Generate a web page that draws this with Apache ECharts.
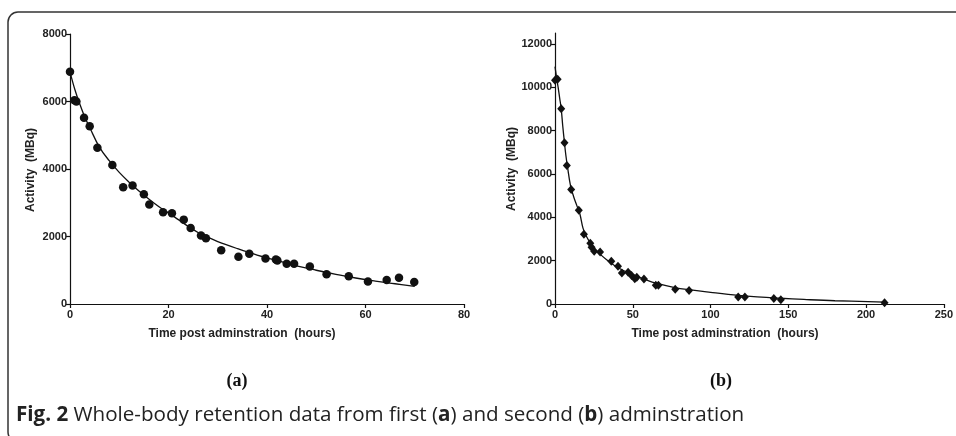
<!DOCTYPE html>
<html>
<head>
<meta charset="utf-8">
<script src="https://cdn.jsdelivr.net/npm/echarts@6/dist/echarts.min.js"></script>
<style>
  html, body { margin: 0; padding: 0; background: #fff; }
  #chart { width: 956px; height: 436px; }
</style>
</head>
<body>
<div id="chart"></div>
<script>
// (a) first administration: measured points
const timeA = [0, 0.9, 1.3, 2.85, 4.0, 5.56, 8.6, 10.8, 12.7, 15.0, 16.1, 18.9, 20.7, 23.1, 24.5, 26.6, 27.6, 30.7, 34.2, 36.4, 39.7, 41.8, 42.1, 44.0, 45.5, 48.7, 52.1, 56.6, 60.5, 64.3, 66.8, 69.9];
const activityA = [6880, 6040, 6000, 5520, 5270, 4630, 4120, 3460, 3510, 3250, 2950, 2720, 2690, 2500, 2250, 2030, 1950, 1590, 1400, 1490, 1350, 1320, 1290, 1190, 1190, 1110, 880, 820, 670, 710, 780, 650];
// (a) fitted curve
const fitTimeA = [0, 1, 2, 3, 4, 6, 8, 10, 12, 14, 16, 18, 20, 22, 24, 26, 28, 30, 34, 38, 42, 46, 50, 54, 58, 62, 66, 70];
const fitActivityA = [6880, 6350, 5920, 5540, 5230, 4640, 4240, 3900, 3610, 3350, 3110, 2890, 2700, 2500, 2300, 2120, 1980, 1850, 1640, 1450, 1290, 1130, 1000, 880, 770, 680, 600, 520];

// (b) second administration: measured points
const timeB = [0, 1.7, 4.0, 6.1, 7.6, 10.4, 15.3, 18.6, 22.7, 23.5, 25.2, 29.0, 36.2, 40.5, 43.0, 47.0, 49.2, 51.3, 52.6, 57.2, 64.8, 66.5, 77.3, 86.2, 117.8, 122.1, 140.7, 145.2, 211.9];
const activityB = [10320, 10370, 9010, 7440, 6390, 5280, 4330, 3220, 2800, 2620, 2430, 2400, 1970, 1740, 1430, 1460, 1320, 1170, 1230, 1150, 860, 860, 680, 620, 320, 320, 250, 200, 60];
// (b) fitted curve
const fitTimeB = [0, 1, 2, 3, 4, 5, 6, 7, 8, 10, 12, 14, 16, 18, 20, 23, 26, 29, 33, 38, 43, 50, 57, 65, 77, 86, 100, 118, 130, 145, 160, 180, 212];
const fitActivityB = [10950, 10450, 10000, 9500, 9000, 8200, 7500, 6850, 6350, 5450, 4950, 4550, 4150, 3500, 3150, 2780, 2500, 2300, 2050, 1790, 1580, 1350, 1160, 960, 760, 660, 540, 400, 330, 265, 210, 150, 90];

const yTicksA = [0, 2000, 4000, 6000, 8000];
const yTicksB = [0, 2000, 4000, 6000, 8000, 10000, 12000];

const zip = (xs, ys) => xs.map((x, i) => [x, ys[i]]);

const chart = echarts.init(document.getElementById('chart'));

const axisLineStyle = { color: '#111', width: 1.2 };
const tickLabel = {
  color: '#222', fontFamily: 'Liberation Sans, Arial', fontWeight: 'bold', fontSize: 11,
  formatter: v => String(v)
};

const makeX = (gridIndex, max, interval) => ({
  type: 'value',
  gridIndex: gridIndex,
  min: 0,
  max: max,
  interval: interval,
  axisLine: { onZero: false, lineStyle: axisLineStyle },
  axisTick: { length: 4, lineStyle: axisLineStyle },
  axisLabel: Object.assign({ margin: 5 }, tickLabel),
  splitLine: { show: false }
});

const makeY = (gridIndex, max, ticks) => ({
  type: 'value',
  gridIndex: gridIndex,
  min: 0,
  max: max,
  interval: 2000,
  axisLine: { show: true, lineStyle: axisLineStyle },
  axisTick: { show: true, length: 4, lineStyle: axisLineStyle, customValues: ticks },
  axisLabel: Object.assign({ margin: 3, customValues: ticks }, tickLabel),
  splitLine: { show: false }
});

const titleFont = { fill: '#222', font: 'bold 12px "Liberation Sans", Arial' };

const option = {
  animation: false,
  backgroundColor: '#fff',
  grid: [
    { left: 70, top: 34, width: 394, height: 270 },
    { left: 555, top: 33, width: 393, height: 271 }
  ],
  xAxis: [makeX(0, 80, 20), makeX(1, 250, 50)],
  yAxis: [makeY(0, 8000, yTicksA), makeY(1, 12500, yTicksB)],
  series: [
    {
      type: 'line', xAxisIndex: 0, yAxisIndex: 0,
      data: zip(fitTimeA, fitActivityA),
      showSymbol: false, smooth: 0.4,
      lineStyle: { color: '#111', width: 1.3 }, z: 2
    },
    {
      type: 'scatter', xAxisIndex: 0, yAxisIndex: 0,
      data: zip(timeA, activityA),
      symbol: 'circle', symbolSize: 8.5,
      itemStyle: { color: '#111', opacity: 1 }, z: 3
    },
    {
      type: 'line', xAxisIndex: 1, yAxisIndex: 1,
      data: zip(fitTimeB, fitActivityB),
      showSymbol: false, smooth: 0.4,
      lineStyle: { color: '#111', width: 1.3 }, z: 2
    },
    {
      type: 'scatter', xAxisIndex: 1, yAxisIndex: 1,
      data: zip(timeB, activityB),
      symbol: 'diamond', symbolSize: [8, 9],
      itemStyle: { color: '#111', opacity: 1 }, z: 3
    }
  ],
  graphic: [
    {
      type: 'rect', silent: true,
      shape: { x: 8, y: 12, width: 1000, height: 430, r: 10 },
      style: { fill: 'none', stroke: '#333', lineWidth: 1.5 }
    },
    {
      type: 'text', x: 242, y: 334,
      style: Object.assign({ text: 'Time post adminstration  (hours)', align: 'center', verticalAlign: 'middle' }, titleFont)
    },
    {
      type: 'text', x: 725, y: 334,
      style: Object.assign({ text: 'Time post adminstration  (hours)', align: 'center', verticalAlign: 'middle' }, titleFont)
    },
    {
      type: 'text', x: 31, y: 170, rotation: Math.PI / 2,
      style: Object.assign({ text: 'Activity  (MBq)', align: 'center', verticalAlign: 'middle' }, titleFont)
    },
    {
      type: 'text', x: 512, y: 169, rotation: Math.PI / 2,
      style: Object.assign({ text: 'Activity  (MBq)', align: 'center', verticalAlign: 'middle' }, titleFont)
    },
    {
      type: 'text', x: 237, y: 381,
      style: { text: '(a)', align: 'center', verticalAlign: 'middle', fill: '#111', font: 'bold 18px "Liberation Serif", "Times New Roman", serif' }
    },
    {
      type: 'text', x: 721, y: 381,
      style: { text: '(b)', align: 'center', verticalAlign: 'middle', fill: '#111', font: 'bold 18px "Liberation Serif", "Times New Roman", serif' }
    },
    {
      type: 'text', x: 16, y: 415,
      style: {
        text: '{b|Fig. 2} Whole-body retention data from first ({b|a}) and second ({b|b}) adminstration',
        verticalAlign: 'middle',
        fill: '#222',
        fontFamily: 'Open Sans',
        fontSize: 20.6,
        rich: {
          b: { fontFamily: 'Open Sans', fontSize: 20.6, fontWeight: 'bold', fill: '#222' }
        }
      }
    }
  ]
};

chart.setOption(option);
window.addEventListener('resize', () => chart.resize());
</script>
</body>
</html>
